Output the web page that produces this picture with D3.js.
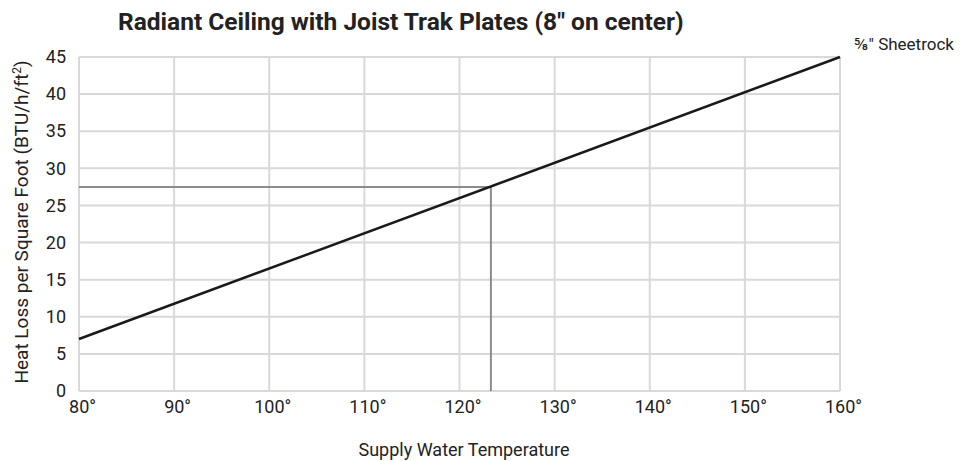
<!DOCTYPE html>
<html><head><meta charset="utf-8">
<script src="https://cdn.jsdelivr.net/npm/d3@7"></script>
<style>body{margin:0;background:#fff;} text{font-family:Roboto,sans-serif;}</style>
</head><body>
<svg id="c" width="962" height="461"></svg>
<script>
const temps = [80, 160];
const heatLoss = [7, 45];
const xTicks = [80, 90, 100, 110, 120, 130, 140, 150, 160];
const yTicks = [0, 5, 10, 15, 20, 25, 30, 35, 40, 45];
const markTemp = [123.3];
const markLoss = [27.5];
const seriesLabel = "⅝\" Sheetrock";
const title = "Radiant Ceiling with Joist Trak Plates (8\" on center)";

const svg = d3.select("#c");
const m = {l: 79, r: 840, t: 57, b: 391};
const x = d3.scaleLinear().domain([80, 160]).range([m.l, m.r]);
const y = d3.scaleLinear().domain([0, 45]).range([m.b, m.t]);

const grid = svg.append("g");
grid.selectAll(".vx").data(xTicks).join("line")
  .attr("x1", d => x(d)).attr("x2", d => x(d)).attr("y1", m.t).attr("y2", m.b)
  .attr("stroke", "#d9d9d9").attr("stroke-width", 2);
grid.selectAll(".hy").data(yTicks).join("line")
  .attr("x1", m.l).attr("x2", m.r).attr("y1", d => y(d)).attr("y2", d => y(d))
  .attr("stroke", "#d9d9d9").attr("stroke-width", 2);

const xAxis = svg.append("g").attr("transform", `translate(3,${m.b})`)
  .call(d3.axisBottom(x).tickValues(xTicks).tickFormat(d => d + "°").tickSize(0).tickPadding(9));
xAxis.select(".domain").remove();
xAxis.selectAll("text").attr("font-size", 18).attr("fill", "#222").attr("font-family", "Roboto");

const yAxis = svg.append("g").attr("transform", `translate(${m.l},0)`)
  .call(d3.axisLeft(y).tickValues(yTicks).tickSize(0).tickPadding(13));
yAxis.select(".domain").remove();
yAxis.selectAll("text").attr("font-size", 18).attr("fill", "#222").attr("font-family", "Roboto");

// marker drop lines
const mx = markTemp[0], my = markLoss[0];
svg.append("path")
  .attr("d", `M${x(80)},${y(my)}H${x(mx)}V${y(0)}`)
  .attr("fill", "none").attr("stroke", "#8c8c8c").attr("stroke-width", 2);

const line = d3.line().x((d, i) => x(temps[i])).y(d => y(d));
svg.append("path").datum(heatLoss).attr("d", line)
  .attr("fill", "none").attr("stroke", "#1a1a1a").attr("stroke-width", 2.5);

svg.append("text").attr("x", x(160) + 14).attr("y", y(45) - 7)
  .attr("font-size", 17).attr("fill", "#222").text(seriesLabel);

svg.append("text").attr("x", 118).attr("y", 30)
  .attr("font-size", 24.5).attr("font-weight", "bold").attr("fill", "#222").text(title);

svg.append("text").attr("x", 464).attr("y", 456).attr("text-anchor", "middle")
  .attr("font-size", 18).attr("fill", "#222").text("Supply Water Temperature");

svg.append("text").attr("transform", "translate(28,222) rotate(-90)").attr("text-anchor", "middle")
  .attr("font-size", 19).attr("fill", "#222")
  .html('Heat Loss per Square Foot (BTU/h/ft<tspan baseline-shift="super" font-size="12">2</tspan>)');
</script>
</body></html>
